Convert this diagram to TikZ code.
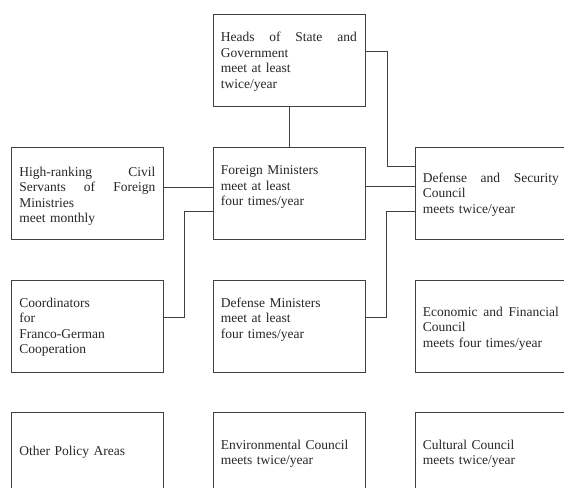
\documentclass[tikz,border=0pt]{standalone}
\usepackage{fontspec}
\setmainfont{Liberation Serif}
\usetikzlibrary{positioning}
\tikzset{
    unit/.style={draw=black!75, line width=0.8pt, minimum width=152pt, minimum height=92pt, inner sep=0pt},
    txt/.style={inner sep=0pt, text width=136pt, align=left, text=black!85, font=\fontsize{13.5}{15.5}\selectfont},
    link/.style={draw=black!75, line width=0.8pt}
}
\begin{document}
\begin{tikzpicture}[x=1pt,y=-1pt]
        \useasboundingbox (0,0) rectangle (564,487);
        \clip (0,0) rectangle (564,487);
        % boxes
        \node[unit] (heads) at (289,60.5) {};
        \node[unit] (civil) at (87.5,193) {};
        \node[unit] (foreign) at (289,193) {};
        \node[unit] (security) at (491,193) {};
        \node[unit] (coord) at (87.5,326) {};
        \node[unit] (defense) at (289,326) {};
        \node[unit] (economic) at (491,326) {};
        \node[unit] (other) at (87.5,458) {};
        \node[unit] (environ) at (289,458) {};
        \node[unit] (culture) at (491,458) {};
        % texts
        \node[txt, below right=18pt and 8pt of heads.north west] (headstxt) {Heads\hfill of\hfill State\hfill and\\Government\\meet at least\\twice/year};
        \node[txt, below right=20pt and 8pt of civil.north west] (civiltxt) {High-ranking\hfill Civil\\Servants\hfill of\hfill Foreign\\Ministries\\meet monthly};
        \node[txt, below right=19pt and 8pt of foreign.north west] (foreigntxt) {Foreign Ministers\\meet at least\\four times/year};
        \node[txt, below right=26pt and 8pt of security.north west] (securitytxt) {Defense\hfill and\hfill Security\\Council\\meets twice/year};
        \node[txt, below right=18pt and 8pt of coord.north west] (coordtxt) {Coordinators\\for\\Franco-German\\Cooperation};
        \node[txt, below right=18pt and 8pt of defense.north west] (defensetxt) {Defense Ministers\\meet at least\\four times/year};
        \node[txt, below right=27pt and 8pt of economic.north west] (economictxt) {Economic\hfill and\hfill Financial\\Council\\meets four times/year};
        \node[txt, below right=34pt and 8pt of other.north west] (othertxt) {Other Policy Areas};
        \node[txt, below right=28pt and 8pt of environ.north west] (environtxt) {Environmental Council\\meets twice/year};
        \node[txt, below right=28pt and 8pt of culture.north west] (culturetxt) {Cultural Council\\meets twice/year};
        % connectors
        \draw[link] (heads) -- (foreign);
        \draw[link] ([yshift=9.5pt]heads.east) -- ++(22pt,0) |- ([yshift=27pt]security.west);
        \draw[link] ([yshift=6pt]civil.east) -- ([yshift=6pt]foreign.west);
        \draw[link] ([yshift=7pt]foreign.east) -- ([yshift=7pt]security.west);
        \draw[link] ([yshift=-18pt]foreign.west) -- ++(-28pt,0) |- ([yshift=9pt]coord.east);
        \draw[link] ([yshift=-18pt]security.west) -- ++(-28pt,0) |- ([yshift=9pt]defense.east);
    \end{tikzpicture}
\end{document}
